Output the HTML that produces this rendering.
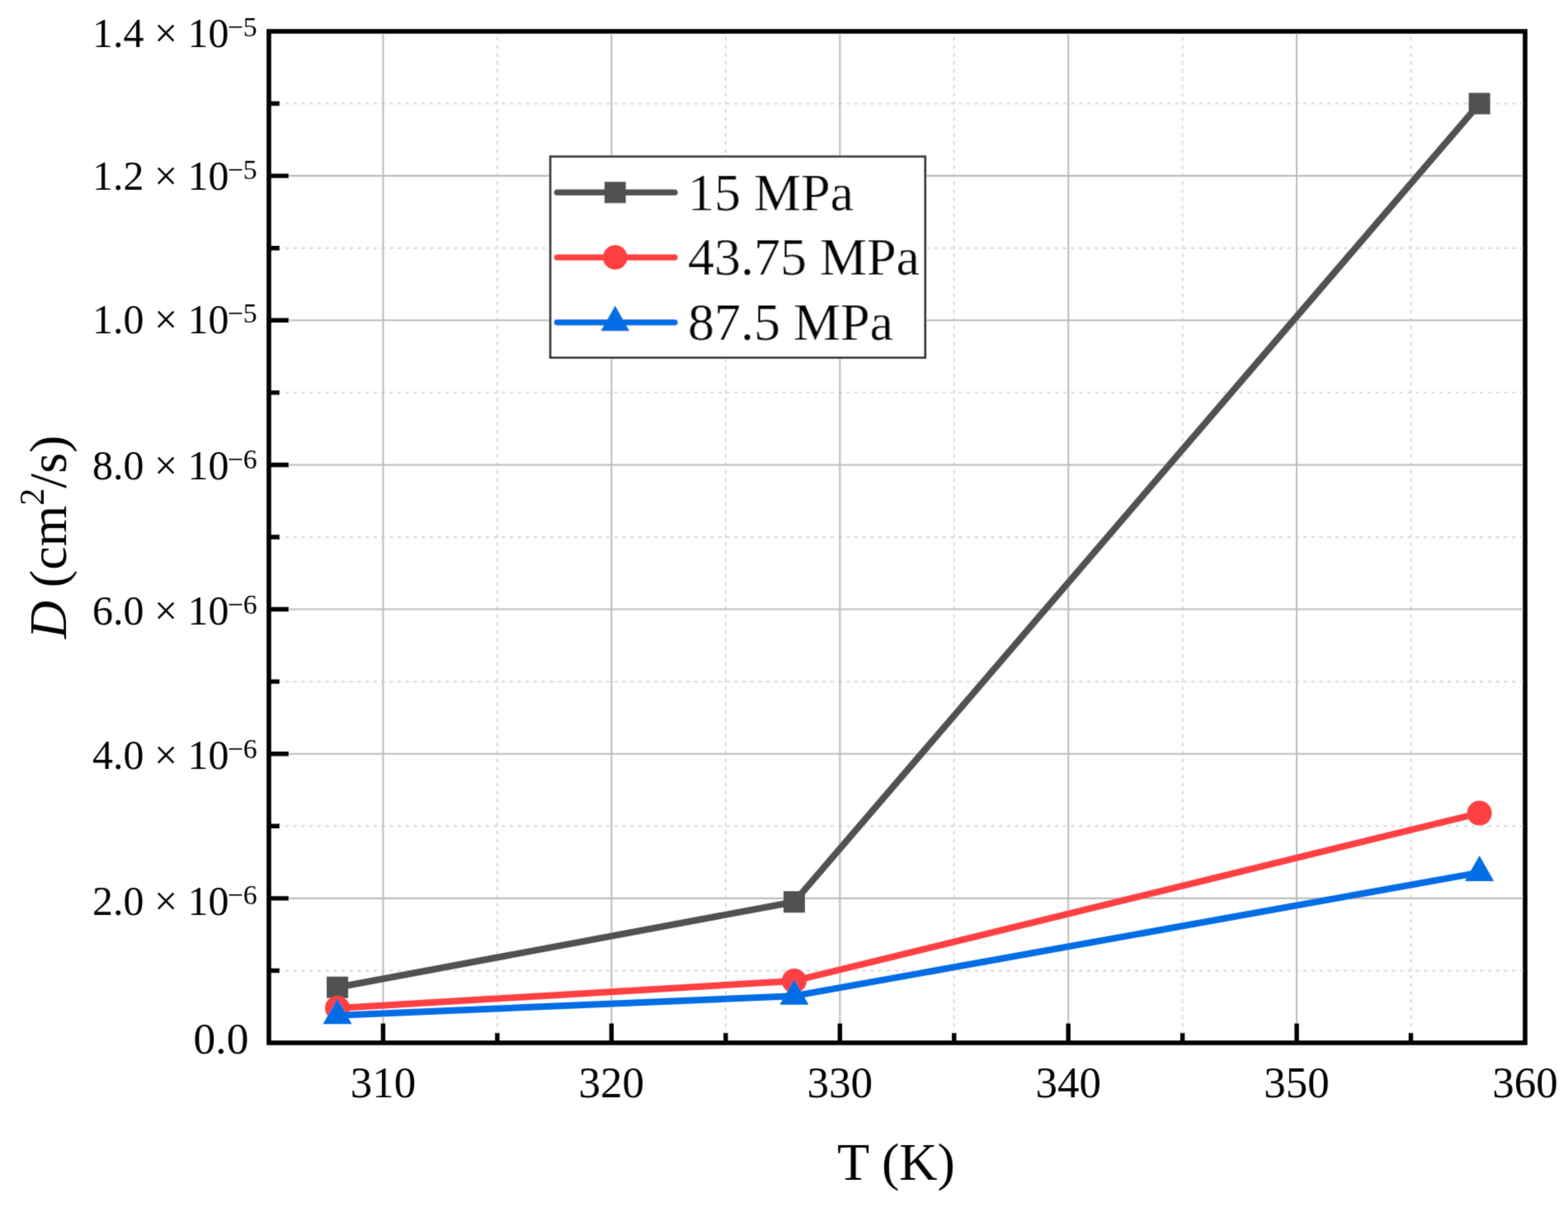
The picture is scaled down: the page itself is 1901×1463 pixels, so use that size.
<!DOCTYPE html><html><head><meta charset="utf-8"><style>html,body{margin:0;padding:0;background:#fff;}svg{display:block;}</style></head><body>
<svg width="1901" height="1463" viewBox="0 0 1901 1463">
<defs><filter id="sb" x="0" y="0" width="1901" height="1463" filterUnits="userSpaceOnUse"><feConvolveMatrix order="3" kernelMatrix="0.0225 0.105 0.0225 0.105 0.49 0.105 0.0225 0.105 0.0225" edgeMode="none"/></filter></defs>
<rect width="1901" height="1463" fill="#fff"/>
<g filter="url(#sb)">
<path d="M602.91 38.00V1264.00M879.82 38.00V1264.00M1156.73 38.00V1264.00M1433.64 38.00V1264.00M1710.55 38.00V1264.00" stroke="#dadada" stroke-width="2" stroke-dasharray="4.6 5.12" stroke-dashoffset="-6.7" fill="none"/>
<path d="M326.00 1176.43H1849.00M326.00 1001.29H1849.00M326.00 826.14H1849.00M326.00 651.00H1849.00M326.00 475.86H1849.00M326.00 300.71H1849.00M326.00 125.57H1849.00" stroke="#dadada" stroke-width="2" stroke-dasharray="4.6 5.12" stroke-dashoffset="-0.2" fill="none"/>
<path d="M464.45 38.00V1264.00M741.36 38.00V1264.00M1018.27 38.00V1264.00M1295.18 38.00V1264.00M1572.09 38.00V1264.00M326.00 1088.86H1849.00M326.00 913.71H1849.00M326.00 738.57H1849.00M326.00 563.43H1849.00M326.00 388.29H1849.00M326.00 213.14H1849.00" stroke="#bdbdbd" stroke-width="2.1" fill="none"/>
<path d="M409.07 1196.75 L962.89 1093.24 L1793.62 125.57" stroke="#515151" stroke-width="8" fill="none" stroke-linejoin="round"/>
<rect x="396.07" y="1183.75" width="26" height="26" fill="#515151"/>
<rect x="949.89" y="1080.24" width="26" height="26" fill="#515151"/>
<rect x="1780.62" y="112.57" width="26" height="26" fill="#515151"/>
<path d="M409.07 1221.97 L962.89 1188.95 L1793.62 985.52" stroke="#ff4043" stroke-width="8" fill="none" stroke-linejoin="round"/>
<circle cx="409.07" cy="1221.97" r="15" fill="#ff4043"/>
<circle cx="962.89" cy="1188.95" r="15" fill="#ff4043"/>
<circle cx="1793.62" cy="985.52" r="15" fill="#ff4043"/>
<path d="M409.07 1230.72 L962.89 1207.17 L1793.62 1057.59" stroke="#006de5" stroke-width="8" fill="none" stroke-linejoin="round"/>
<path d="M409.07 1210.22L426.57 1241.22L391.57 1241.22Z" fill="#006de5"/>
<path d="M962.89 1186.67L980.39 1217.67L945.39 1217.67Z" fill="#006de5"/>
<path d="M1793.62 1037.09L1811.12 1068.09L1776.12 1068.09Z" fill="#006de5"/>
<path d="M464.45 1264.00V1240.50M741.36 1264.00V1240.50M1018.27 1264.00V1240.50M1295.18 1264.00V1240.50M1572.09 1264.00V1240.50M602.91 1264.00V1252.00M879.82 1264.00V1252.00M1156.73 1264.00V1252.00M1433.64 1264.00V1252.00M1710.55 1264.00V1252.00M326.00 1088.86H350.00M326.00 913.71H350.00M326.00 738.57H350.00M326.00 563.43H350.00M326.00 388.29H350.00M326.00 213.14H350.00M326.00 1176.43H339.00M326.00 1001.29H339.00M326.00 826.14H339.00M326.00 651.00H339.00M326.00 475.86H339.00M326.00 300.71H339.00M326.00 125.57H339.00" stroke="#000" stroke-width="5.4" fill="none"/>
<rect x="326.0" y="38.0" width="1523.0" height="1226.0" fill="none" stroke="#000" stroke-width="5.6"/>
<g font-family="'Liberation Serif','Times New Roman',serif" font-size="50" fill="#000">
<text x="277.6" y="57.0" text-anchor="end">1.4 × 10</text>
<text x="275.7" y="44.0" font-size="34">−5</text>
<text x="277.6" y="230.0" text-anchor="end">1.2 × 10</text>
<text x="275.7" y="217.0" font-size="34">−5</text>
<text x="277.6" y="404.4" text-anchor="end">1.0 × 10</text>
<text x="275.7" y="391.4" font-size="34">−5</text>
<text x="277.6" y="581.2" text-anchor="end">8.0 × 10</text>
<text x="275.7" y="568.2" font-size="34">−6</text>
<text x="277.6" y="756.8" text-anchor="end">6.0 × 10</text>
<text x="275.7" y="743.8" font-size="34">−6</text>
<text x="277.6" y="932.4" text-anchor="end">4.0 × 10</text>
<text x="275.7" y="919.4" font-size="34">−6</text>
<text x="277.6" y="1109.0" text-anchor="end">2.0 × 10</text>
<text x="275.7" y="1096.0" font-size="34">−6</text>
<text x="234.6" y="1277.1" font-size="53.5">0.0</text>
</g>
<g font-family="'Liberation Serif','Times New Roman',serif" font-size="53" fill="#000" text-anchor="middle">
<text x="464.45" y="1330.3">310</text>
<text x="741.36" y="1330.3">320</text>
<text x="1018.27" y="1330.3">330</text>
<text x="1295.18" y="1330.3">340</text>
<text x="1572.09" y="1330.3">350</text>
<text x="1849.00" y="1330.3">360</text>
</g>
<text x="1086.5" y="1430" font-family="'Liberation Serif','Times New Roman',serif" font-size="64" text-anchor="middle">T (K)</text>
<text transform="translate(80 651) rotate(-90)" font-family="'Liberation Serif','Times New Roman',serif" font-size="64" text-anchor="middle"><tspan font-style="italic">D</tspan> (cm<tspan font-size="42" dy="-27">2</tspan><tspan dy="27">/s)</tspan></text>
<rect x="667.2" y="189.8" width="454.5" height="243.6" fill="#fff" stroke="#3a3a3a" stroke-width="2.8"/>
<path d="M675.4 233.3H818" stroke="#515151" stroke-width="7.6" stroke-linecap="round"/>
<rect x="732.80" y="220.30" width="26" height="26" fill="#515151"/>
<text x="834" y="254.5" font-family="'Liberation Serif','Times New Roman',serif" font-size="64">15 MPa</text>
<path d="M675.4 312.0H818" stroke="#ff4043" stroke-width="7.6" stroke-linecap="round"/>
<circle cx="745.80" cy="312.00" r="15" fill="#ff4043"/>
<text x="834" y="333.2" font-family="'Liberation Serif','Times New Roman',serif" font-size="64">43.75 MPa</text>
<path d="M675.4 390.7H818" stroke="#006de5" stroke-width="7.6" stroke-linecap="round"/>
<path d="M745.80 370.20L763.30 401.20L728.30 401.20Z" fill="#006de5"/>
<text x="834" y="411.9" font-family="'Liberation Serif','Times New Roman',serif" font-size="64">87.5 MPa</text>
</g></svg></body></html>
